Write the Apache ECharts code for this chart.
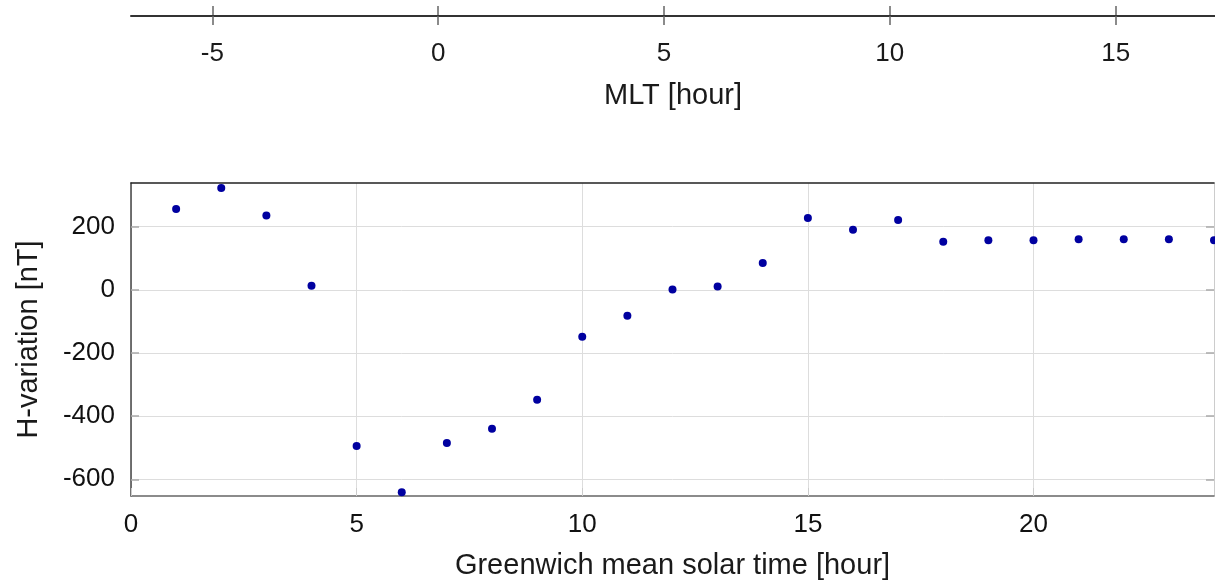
<!DOCTYPE html>
<html>
<head>
<meta charset="utf-8">
<script src="https://cdn.jsdelivr.net/npm/echarts@6/dist/echarts.min.js"></script>
<style>
  html, body { margin: 0; padding: 0; background: #fff; }
  #chart { width: 1215px; height: 583px; }
</style>
</head>
<body>
<div id="chart"></div>
<script>
// hour of the day (Greenwich mean solar time)
const hours = [1, 2, 3, 4, 5, 6, 7, 8, 9, 10, 11, 12, 13, 14, 15, 16, 17, 18, 19, 20, 21, 22, 23, 24];
// H-variation in nT
const hVariation = [256, 322, 235, 13, -495, -641, -485, -440, -348, -149, -82, 1, 10, 85, 227, 190, 221, 152, 157, 157, 160, 160, 160, 157];
const gmtTicks = [0, 5, 10, 15, 20];
const mltTicks = [-5, 0, 5, 10, 15];
const yTicks = [-600, -400, -200, 0, 200];
const mltOffset = -6.8; // MLT = GMT + offset

const font = "'Liberation Sans', Arial, sans-serif";
const tickFont = 26;
const nameFont = 29;

const chart = echarts.init(document.getElementById('chart'));

const option = {
  animation: false,
  grid: [
    { left: 131, right: 1, top: 183, height: 313, outerBoundsMode: 'none' },
    { left: 131, right: 0, top: 15, height: 1, outerBoundsMode: 'none' }
  ],
  xAxis: [
    {
      // bottom GMT axis
      gridIndex: 0, type: 'value', position: 'bottom',
      min: 0, max: 24,
      name: 'Greenwich mean solar time [hour]',
      nameLocation: 'middle', nameGap: 55,
      nameTextStyle: { fontSize: nameFont, fontFamily: font, color: '#1a1a1a' },
      axisLine: { onZero: false, lineStyle: { color: '#666', width: 1.5 } },
      axisTick: { inside: true, length: 8, customValues: gmtTicks, lineStyle: { color: '#ccc' } },
      axisLabel: { customValues: gmtTicks, margin: 16, fontSize: tickFont, fontFamily: font, color: '#111' },
      splitLine: { show: true, lineStyle: { color: '#ddd' } }
    },
    {
      // frame top edge
      gridIndex: 0, type: 'value', position: 'top',
      min: 0, max: 24,
      axisLine: { show: true, onZero: false, lineStyle: { color: '#222', width: 1.5 } },
      axisTick: { show: false }, axisLabel: { show: false }, splitLine: { show: false }
    },
    {
      // MLT axis: line + downward ticks and labels
      gridIndex: 1, type: 'value', position: 'bottom',
      min: mltOffset, max: 24 + mltOffset,
      name: 'MLT [hour]',
      nameLocation: 'middle', nameGap: 65,
      nameTextStyle: { fontSize: nameFont, fontFamily: font, color: '#1a1a1a' },
      axisLine: { onZero: false, lineStyle: { color: '#333', width: 2 } },
      axisTick: { length: 9, customValues: mltTicks, lineStyle: { color: '#666', width: 1.5 } },
      axisLabel: { customValues: mltTicks, margin: 25, fontSize: tickFont, fontFamily: font, color: '#1a1a1a' },
      splitLine: { show: false }
    },
    {
      // MLT axis: upward tick halves
      gridIndex: 1, type: 'value', position: 'top',
      min: mltOffset, max: 24 + mltOffset,
      axisLine: { show: false, onZero: false },
      axisTick: { length: 9, customValues: mltTicks, lineStyle: { color: '#666', width: 1.5 } },
      axisLabel: { show: false }, splitLine: { show: false }
    }
  ],
  yAxis: [
    {
      gridIndex: 0, type: 'value', position: 'left',
      min: -653, max: 338,
      name: 'H-variation [nT]',
      nameLocation: 'middle', nameGap: 88,
      nameTextStyle: { fontSize: nameFont, fontFamily: font, color: '#1a1a1a' },
      axisLine: { show: true, onZero: false, lineStyle: { color: '#444', width: 1.5 } },
      axisTick: { show: true, inside: true, length: 8, customValues: yTicks, lineStyle: { color: '#aaa', width: 1.5 } },
      axisLabel: { customValues: yTicks, margin: 16, fontSize: tickFont, fontFamily: font, color: '#111' },
      splitLine: { show: true, lineStyle: { color: '#ddd' } }
    },
    {
      // frame right edge
      gridIndex: 0, type: 'value', position: 'right',
      min: -653, max: 338,
      axisLine: { show: true, onZero: false, lineStyle: { color: '#ccc' } },
      axisTick: { show: true, inside: true, length: 8, customValues: yTicks, lineStyle: { color: '#aaa', width: 1.5 } },
      axisLabel: { show: false }, splitLine: { show: false }
    },
    {
      gridIndex: 1, type: 'value', show: false, min: 0, max: 1
    }
  ],
  series: [
    {
      type: 'scatter',
      xAxisIndex: 0, yAxisIndex: 0,
      symbol: 'circle', symbolSize: 8,
      itemStyle: { color: '#0000a0', opacity: 1 },
      data: hours.map((h, i) => [h, hVariation[i]])
    }
  ]
};

chart.setOption(option);
</script>
</body>
</html>
